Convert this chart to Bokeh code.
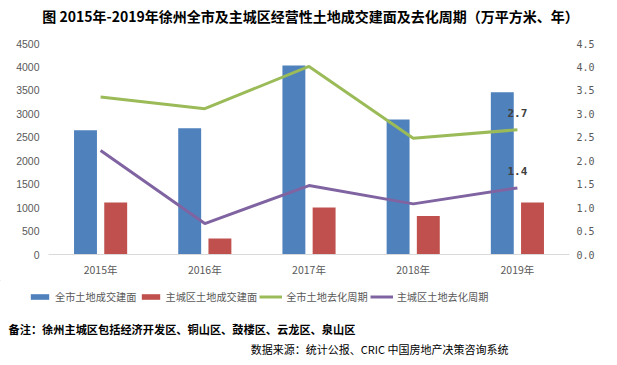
from bokeh.plotting import figure
from bokeh.layouts import column
from bokeh.models import (Range1d, FactorRange, LinearAxis, FixedTicker, PrintfTickFormatter,
                          Legend, LegendItem, Label, ColumnDataSource)
from bokeh.transform import dodge
from bokeh.core.properties import value
from bokeh.embed import file_html
from bokeh.resources import INLINE

years = ["2015年", "2016年", "2017年", "2018年", "2019年"]
city_area = [2650, 2690, 4030, 2880, 3460]
main_area = [1110, 340, 1000, 820, 1110]
city_cycle = [3.36, 3.11, 4.01, 2.48, 2.66]
main_cycle = [2.22, 0.66, 1.47, 1.08, 1.42]
left_ticks = [0, 500, 1000, 1500, 2000, 2500, 3000, 3500, 4000, 4500]
right_ticks = [0.0, 0.5, 1.0, 1.5, 2.0, 2.5, 3.0, 3.5, 4.0, 4.5]

series_names = ["全市土地成交建面", "主城区土地成交建面", "全市土地去化周期", "主城区土地去化周期"]
title_text = "图 2015年-2019年徐州全市及主城区经营性土地成交建面及去化周期（万平方米、年）"
note_text = "备注：徐州主城区包括经济开发区、铜山区、鼓楼区、云龙区、泉山区"
source_text = "数据来源：统计公报、CRIC 中国房地产决策咨询系统"

BLUE, RED, GREEN, PURPLE = "#4F81BD", "#C0504D", "#9BBB59", "#8064A2"
TXT = "#595959"
CJK = "Noto Sans CJK SC"
W = 617


def blank(height, y0, y1):
    f = figure(width=W, height=height, x_range=Range1d(0, W), y_range=Range1d(y1, y0),
               output_backend="svg", toolbar_location=None, min_border=0,
               x_axis_location=None, y_axis_location=None)
    f.frame_align = False
    f.outline_line_color = None
    f.grid.visible = False
    return f


# ---------- title strip ----------
top = blank(30, 0, 30)
top.add_layout(Label(x=310, y=15, text=title_text, text_align="center",
                     text_baseline="middle", text_font=CJK, text_font_style="bold",
                     text_font_size="14px", text_color="#000000"))

# ---------- main chart ----------
src = ColumnDataSource(dict(x=years, city=city_area, main=main_area,
                            cc=city_cycle, mc=main_cycle))
p = figure(width=W, height=250, x_range=FactorRange(factors=years),
           y_range=Range1d(0, 4500), output_backend="svg", toolbar_location=None,
           min_border_left=48, min_border_right=48, min_border_top=13, min_border_bottom=26)
p.frame_align = False
p.extra_y_ranges = {"right": Range1d(0, 4.5)}
p.outline_line_color = None
p.grid.visible = False

p.xaxis.axis_line_color = "#d9d9d9"
p.xaxis.major_tick_line_color = None
p.xaxis.minor_tick_line_color = None
p.xaxis.major_label_text_font = CJK
p.xaxis.major_label_text_font_size = "10.5px"
p.xaxis.major_label_text_color = TXT
p.xaxis.major_label_standoff = 1

p.yaxis.ticker = FixedTicker(ticks=left_ticks)
p.yaxis.axis_line_color = None
p.yaxis.major_tick_line_color = None
p.yaxis.minor_tick_line_color = None
p.yaxis.major_label_text_font = "Liberation Sans"
p.yaxis.major_label_text_font_size = "10.5px"
p.yaxis.major_label_text_color = TXT
p.yaxis.major_label_standoff = 3

ax2 = LinearAxis(y_range_name="right", ticker=FixedTicker(ticks=right_ticks),
                 formatter=PrintfTickFormatter(format="%.1f"))
ax2.axis_line_color = None
ax2.major_tick_line_color = None
ax2.minor_tick_line_color = None
ax2.major_label_text_font = "DejaVu Sans Mono"
ax2.major_label_text_font_size = "10px"
ax2.major_label_text_color = TXT
ax2.major_label_standoff = 1
p.add_layout(ax2, "right")

p.vbar(x=dodge("x", -0.145, range=p.x_range), top="city", width=0.22,
       source=src, fill_color=BLUE, line_color=None)
p.vbar(x=dodge("x", 0.145, range=p.x_range), top="main", width=0.22,
       source=src, fill_color=RED, line_color=None)
p.line(x="x", y="cc", source=src, y_range_name="right", line_color=GREEN, line_width=3)
p.line(x="x", y="mc", source=src, y_range_name="right", line_color=PURPLE, line_width=3)

lab_src = ColumnDataSource(dict(x=[years[-1], years[-1]],
                                y=[city_cycle[-1], main_cycle[-1]],
                                t=["%.1f" % city_cycle[-1], "%.1f" % main_cycle[-1]]))
p.text(x="x", y="y", text="t", source=lab_src, y_range_name="right",
       text_font=value("DejaVu Sans Mono"), text_font_style="bold",
       text_font_size="11px", text_color="#404040",
       text_align="center", text_baseline="bottom", y_offset=-13)

# ---------- legend + notes strip ----------
bot = blank(85, 280, 365)
# off-screen stand-in renderers that only supply the legend swatches
g1 = bot.vbar(x=[-999], top=[-999], width=1, fill_color=BLUE, line_color=None)
g2 = bot.vbar(x=[-999], top=[-999], width=1, fill_color=RED, line_color=None)
g3 = bot.line(x=[-999, -998], y=[-999, -999], line_color=GREEN, line_width=3)
g4 = bot.line(x=[-999, -998], y=[-999, -999], line_color=PURPLE, line_width=3)
legend = Legend(items=[LegendItem(label=series_names[0], renderers=[g1]),
                       LegendItem(label=series_names[1], renderers=[g2]),
                       LegendItem(label=series_names[2], renderers=[g3]),
                       LegendItem(label=series_names[3], renderers=[g4])],
                orientation="horizontal", location=(28, 61),
                padding=0, margin=0, spacing=2, label_standoff=4,
                glyph_width=23, glyph_height=7, label_height=14,
                border_line_color=None, background_fill_alpha=0,
                label_text_font=CJK, label_text_font_size="10.2px",
                label_text_color=TXT)
bot.add_layout(legend)
bot.add_layout(Label(x=8, y=328, text=note_text, text_align="left",
                     text_baseline="middle", text_font=CJK, text_font_style="bold",
                     text_font_size="11.2px", text_color="#000000"))
bot.add_layout(Label(x=508, y=348, text=source_text, text_align="right",
                     text_baseline="middle", text_font=CJK,
                     text_font_size="11px", text_color="#000000"))

layout = column(top, p, bot, spacing=0)
open("out.html", "w").write(file_html(layout, INLINE))
